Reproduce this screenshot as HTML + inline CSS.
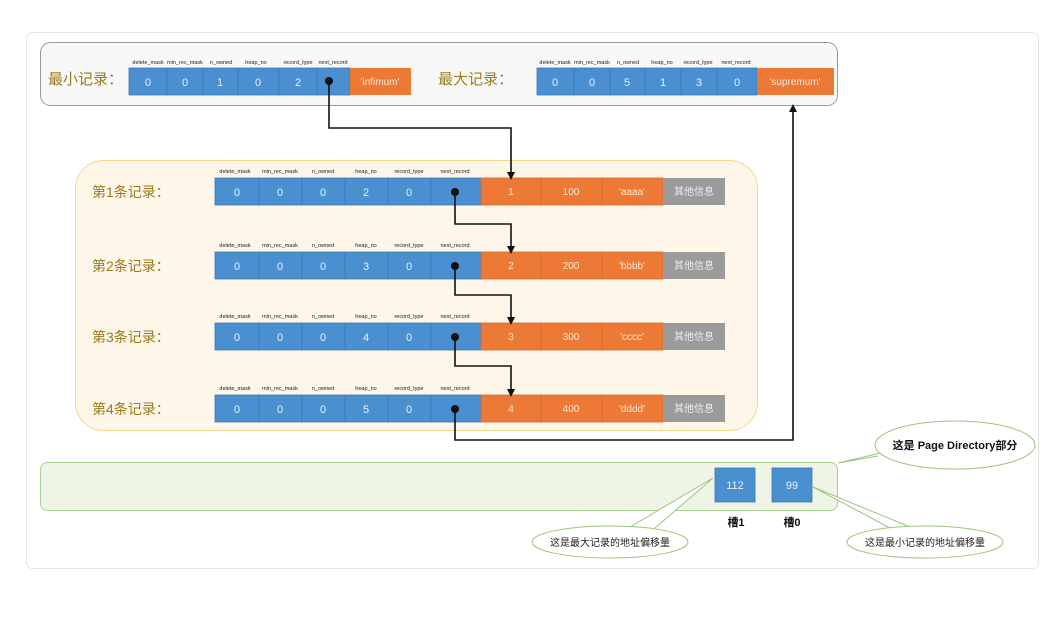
<!DOCTYPE html>
<html><head><meta charset="utf-8"><style>
html,body{margin:0;padding:0;background:#fff;}
svg{display:block;}
text{font-family:"Liberation Sans","Noto Sans CJK SC",sans-serif;}
</style></head><body>
<svg width="1062" height="618" viewBox="0 0 1062 618" xmlns="http://www.w3.org/2000/svg">
<defs>
<marker id="ah" markerWidth="8" markerHeight="8" refX="4" refY="4" orient="auto" markerUnits="userSpaceOnUse">
<path d="M0,0 L8,4 L0,8 Z" fill="#111"/></marker>
</defs>
<rect x="26.5" y="32.5" width="1012" height="536" rx="6" fill="#fff" stroke="#e6e6e6"/>
<!-- top box -->
<rect x="40.5" y="42.5" width="797" height="63" rx="10" fill="#f8f8f8" stroke="#9a9a9a"/>
<text x="48" y="84" font-size="15" fill="#9a7b1e">最小记录：</text>
<g font-size="5.5" fill="#222" text-anchor="middle">
<text x="148" y="64">delete_mask</text><text x="185" y="64">min_rec_mask</text><text x="221" y="64">n_owned</text><text x="256" y="64">heap_no</text><text x="298" y="64">record_type</text><text x="333" y="64">next_record</text>
<text x="555" y="64">delete_mask</text><text x="592" y="64">min_rec_mask</text><text x="628" y="64">n_owned</text><text x="662" y="64">heap_no</text><text x="698" y="64">record_type</text><text x="736" y="64">next_record</text>
</g>
<g stroke="#3d78b0" stroke-width="0.8" fill="#4a8fd0">
<rect x="129" y="68" width="38" height="27"/><rect x="167" y="68" width="36" height="27"/><rect x="203" y="68" width="35" height="27"/><rect x="238" y="68" width="41" height="27"/><rect x="279" y="68" width="38" height="27"/><rect x="317" y="68" width="33" height="27"/>
<rect x="537" y="68" width="37" height="27"/><rect x="574" y="68" width="36" height="27"/><rect x="610" y="68" width="35" height="27"/><rect x="645" y="68" width="36" height="27"/><rect x="681" y="68" width="36" height="27"/><rect x="717" y="68" width="40" height="27"/>
</g>
<rect x="350" y="68" width="61" height="27" fill="#ec7a36"/>
<rect x="757" y="68" width="77" height="27" fill="#ec7a36"/>
<g font-size="11" fill="#e8f1fb" text-anchor="middle">
<text x="148" y="86">0</text><text x="185" y="86">0</text><text x="220" y="86">1</text><text x="258" y="86">0</text><text x="298" y="86">2</text>
<text x="555" y="86">0</text><text x="592" y="86">0</text><text x="627" y="86">5</text><text x="663" y="86">1</text><text x="699" y="86">3</text><text x="737" y="86">0</text>
</g>
<g font-size="10" fill="#fde6d6" text-anchor="middle"><text x="380" y="85">'infimum'</text><text x="795" y="85">'supremum'</text></g>
<text x="438" y="84" font-size="15" fill="#9a7b1e">最大记录：</text>
<!-- middle box -->
<rect x="75.5" y="160.5" width="682" height="270" rx="28" fill="#fdf6e9" stroke="#f3d98c"/>
<g id="rows"></g>
<!-- rows -->
<g font-size="14" fill="#9a7b1e">
<text x="92" y="197">第1条记录：</text><text x="92" y="271">第2条记录：</text><text x="92" y="342">第3条记录：</text><text x="92" y="414">第4条记录：</text>
</g>
<g font-size="5.5" fill="#222" text-anchor="middle">
<text x="235" y="173">delete_mask</text><text x="280" y="173">min_rec_mask</text><text x="323" y="173">n_owned</text><text x="366" y="173">heap_no</text><text x="409" y="173">record_type</text><text x="455" y="173">next_record</text>
<text x="235" y="247">delete_mask</text><text x="280" y="247">min_rec_mask</text><text x="323" y="247">n_owned</text><text x="366" y="247">heap_no</text><text x="409" y="247">record_type</text><text x="455" y="247">next_record</text>
<text x="235" y="318">delete_mask</text><text x="280" y="318">min_rec_mask</text><text x="323" y="318">n_owned</text><text x="366" y="318">heap_no</text><text x="409" y="318">record_type</text><text x="455" y="318">next_record</text>
<text x="235" y="390">delete_mask</text><text x="280" y="390">min_rec_mask</text><text x="323" y="390">n_owned</text><text x="366" y="390">heap_no</text><text x="409" y="390">record_type</text><text x="455" y="390">next_record</text>
</g>
<g stroke="#3d78b0" stroke-width="0.8" fill="#4a8fd0">
<rect x="215" y="178" width="44" height="27"/><rect x="259" y="178" width="43" height="27"/><rect x="302" y="178" width="43" height="27"/><rect x="345" y="178" width="43" height="27"/><rect x="388" y="178" width="43" height="27"/><rect x="431" y="178" width="50" height="27"/>
<rect x="215" y="252" width="44" height="27"/><rect x="259" y="252" width="43" height="27"/><rect x="302" y="252" width="43" height="27"/><rect x="345" y="252" width="43" height="27"/><rect x="388" y="252" width="43" height="27"/><rect x="431" y="252" width="50" height="27"/>
<rect x="215" y="323" width="44" height="27"/><rect x="259" y="323" width="43" height="27"/><rect x="302" y="323" width="43" height="27"/><rect x="345" y="323" width="43" height="27"/><rect x="388" y="323" width="43" height="27"/><rect x="431" y="323" width="50" height="27"/>
<rect x="215" y="395" width="44" height="27"/><rect x="259" y="395" width="43" height="27"/><rect x="302" y="395" width="43" height="27"/><rect x="345" y="395" width="43" height="27"/><rect x="388" y="395" width="43" height="27"/><rect x="431" y="395" width="50" height="27"/>
</g>
<g stroke="#d8692a" stroke-width="0.8" fill="#ec7a36">
<rect x="481" y="178" width="60" height="27"/><rect x="541" y="178" width="61" height="27"/><rect x="602" y="178" width="61" height="27"/>
<rect x="481" y="252" width="60" height="27"/><rect x="541" y="252" width="61" height="27"/><rect x="602" y="252" width="61" height="27"/>
<rect x="481" y="323" width="60" height="27"/><rect x="541" y="323" width="61" height="27"/><rect x="602" y="323" width="61" height="27"/>
<rect x="481" y="395" width="60" height="27"/><rect x="541" y="395" width="61" height="27"/><rect x="602" y="395" width="61" height="27"/>
</g>
<g fill="#9b9b9b"><rect x="663" y="178" width="62" height="27"/><rect x="663" y="252" width="62" height="27"/><rect x="663" y="323" width="62" height="27"/><rect x="663" y="395" width="62" height="27"/></g>
<g font-size="11" fill="#e8f1fb" text-anchor="middle">
<text x="237" y="196">0</text><text x="280" y="196">0</text><text x="323" y="196">0</text><text x="366" y="196">2</text><text x="409" y="196">0</text>
<text x="237" y="270">0</text><text x="280" y="270">0</text><text x="323" y="270">0</text><text x="366" y="270">3</text><text x="409" y="270">0</text>
<text x="237" y="341">0</text><text x="280" y="341">0</text><text x="323" y="341">0</text><text x="366" y="341">4</text><text x="409" y="341">0</text>
<text x="237" y="413">0</text><text x="280" y="413">0</text><text x="323" y="413">0</text><text x="366" y="413">5</text><text x="409" y="413">0</text>
</g>
<g font-size="10" fill="#fde6d6" text-anchor="middle">
<text x="511" y="195">1</text><text x="571" y="195">100</text><text x="632" y="195">'aaaa'</text>
<text x="511" y="269">2</text><text x="571" y="269">200</text><text x="632" y="269">'bbbb'</text>
<text x="511" y="340">3</text><text x="571" y="340">300</text><text x="632" y="340">'cccc'</text>
<text x="511" y="412">4</text><text x="571" y="412">400</text><text x="632" y="412">'dddd'</text>
</g>
<g font-size="10" fill="#eee" text-anchor="middle">
<text x="694" y="195">其他信息</text><text x="694" y="269">其他信息</text><text x="694" y="340">其他信息</text><text x="694" y="412">其他信息</text>
</g>
<!-- connectors -->
<g fill="none" stroke="#111" stroke-width="1.6">
<path d="M329,81 V128 H511 V176" marker-end="url(#ah)"/>
<path d="M455,192 V224 H511 V250" marker-end="url(#ah)"/>
<path d="M455,266 V295 H511 V321" marker-end="url(#ah)"/>
<path d="M455,337 V366 H511 V393" marker-end="url(#ah)"/>
<path d="M455,409 V440 H793 V108" marker-end="url(#ah)"/>
</g>
<g fill="#111"><circle cx="329" cy="81" r="4"/><circle cx="455" cy="192" r="4"/><circle cx="455" cy="266" r="4"/><circle cx="455" cy="337" r="4"/><circle cx="455" cy="409" r="4"/></g>
<!-- bottom -->
<rect x="40.5" y="462.5" width="797" height="48" rx="7" fill="#eef5e7" stroke="#a9d08e"/>
<rect x="715" y="468" width="40" height="34" fill="#4a8fd0" stroke="#3d78b0" stroke-width="0.8"/>
<rect x="772" y="468" width="40" height="34" fill="#4a8fd0" stroke="#3d78b0" stroke-width="0.8"/>
<g font-size="11" fill="#e8f1fb" text-anchor="middle"><text x="735" y="489">112</text><text x="792" y="489">99</text></g>
<g font-size="11" font-weight="bold" fill="#111" text-anchor="middle"><text x="736" y="526">槽1</text><text x="792" y="526">槽0</text></g>
<!-- callouts -->
<g fill="#fff" stroke="#9cc47f" stroke-width="1">
<path d="M893,450 L838,463 L878,456"/>
<ellipse cx="955" cy="445" rx="80" ry="24"/>
<path d="M630,527 L713,478 L655,528"/>
<ellipse cx="610" cy="542" rx="78" ry="16"/>
<path d="M890,528 L813,487 L910,527"/>
<ellipse cx="925" cy="542" rx="78" ry="16"/>
</g>
<text x="955" y="449" font-size="11" font-weight="bold" fill="#111" text-anchor="middle">这是 Page Directory部分</text>
<text x="610" y="546" font-size="10" fill="#222" text-anchor="middle">这是最大记录的地址偏移量</text>
<text x="925" y="546" font-size="10" fill="#222" text-anchor="middle">这是最小记录的地址偏移量</text>
</svg>
</body></html>
